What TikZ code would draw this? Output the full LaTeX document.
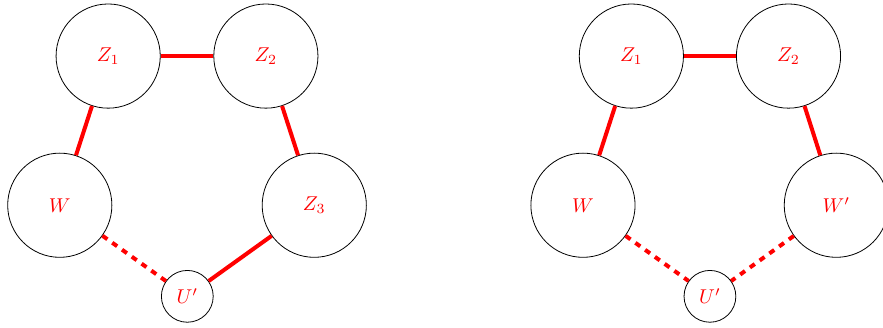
\documentclass[tikz,border=0pt]{standalone}
\usepackage{amsmath,amssymb}
\usepackage{tikz}

\begin{document}
\begin{tikzpicture}
    \tikzstyle{bag}=[circle,draw=black,text=red,minimum size=1.83cm,inner sep=0pt]
    \tikzstyle{small}=[circle,draw=black,text=red,minimum size=0.91cm,inner sep=0pt]
    \tikzstyle{tie}=[red,line width=2pt]
    \useasboundingbox (0,0) rectangle (15.51,5.745);
    % left
    \node[bag] (L_Z1) at (1.90,4.76) {$Z_1$};
    \node[bag] (L_Z2) at (4.67,4.76) {$Z_2$};
    \node[bag] (L_W) at (1.05,2.14) {$W$};
    \node[bag] (L_Z3) at (5.52,2.14) {$Z_3$};
    \node[small] (L_U) at (3.29,0.54) {$U'$};
    \draw [tie] (L_Z1) -- (L_Z2);
    \draw [tie] (L_Z1) -- (L_W);
    \draw [tie] (L_Z2) -- (L_Z3);
    \draw [tie] (L_Z3) -- (L_U);
    \draw [tie, dashed] (L_W) -- (L_U);
    % right
    \node[bag] (R_Z1) at (11.09,4.76) {$Z_1$};
    \node[bag] (R_Z2) at (13.85,4.76) {$Z_2$};
    \node[bag] (R_W) at (10.24,2.14) {$W$};
    \node[bag] (R_W2) at (14.69,2.14) {$W'$};
    \node[small] (R_U) at (12.47,0.54) {$U'$};
    \draw [tie] (R_Z1) -- (R_Z2);
    \draw [tie] (R_Z1) -- (R_W);
    \draw [tie] (R_Z2) -- (R_W2);
    \draw [tie, dashed] (R_W) -- (R_U);
    \draw [tie, dashed] (R_W2) -- (R_U);
\end{tikzpicture}
\end{document}
